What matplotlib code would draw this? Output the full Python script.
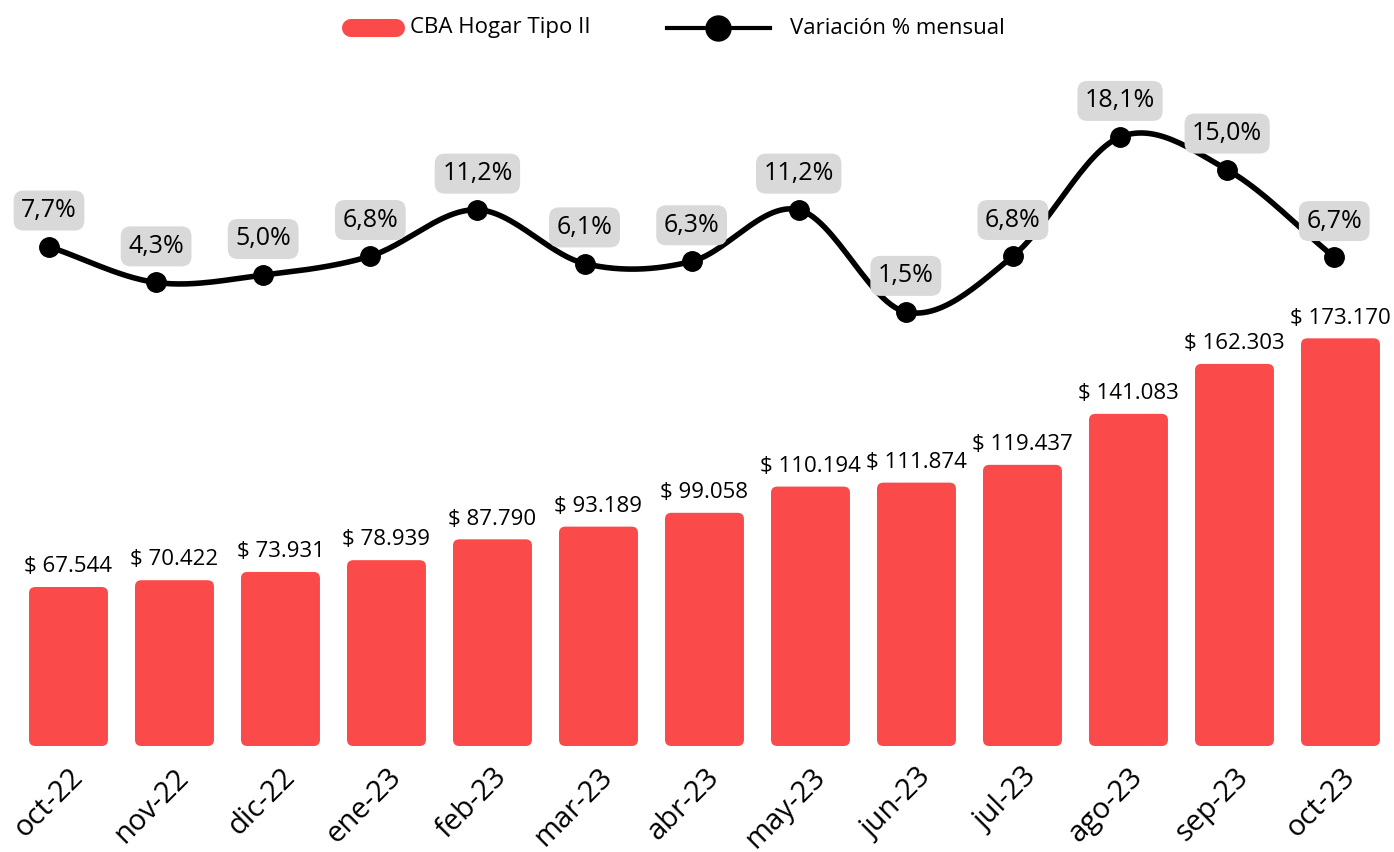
import numpy as np
import matplotlib.pyplot as plt
from matplotlib.patches import FancyBboxPatch
from matplotlib.lines import Line2D

plt.rcParams['font.family'] = ['Open Sans', 'DejaVu Sans']

meses = ['oct-22', 'nov-22', 'dic-22', 'ene-23', 'feb-23', 'mar-23', 'abr-23',
         'may-23', 'jun-23', 'jul-23', 'ago-23', 'sep-23', 'oct-23']
cba = [67544, 70422, 73931, 78939, 87790, 93189, 99058,
       110194, 111874, 119437, 141083, 162303, 173170]
variacion = [7.7, 4.3, 5.0, 6.8, 11.2, 6.1, 6.3, 11.2, 1.5, 6.8, 18.1, 15.0, 6.7]

ROJO = '#FA4A4A'
W, H = 1394, 852


def fmt_miles(v):
    return '$ ' + f'{v:,}'.replace(',', '.')


def spline(x, y, n=30):
    # curva suave tipo Catmull-Rom que pasa por los puntos
    x = np.asarray(x, float)
    y = np.asarray(y, float)
    px = np.concatenate([[2 * x[0] - x[1]], x, [2 * x[-1] - x[-2]]])
    py = np.concatenate([[2 * y[0] - y[1]], y, [2 * y[-1] - y[-2]]])
    xs, ys = [], []
    t = np.linspace(0, 1, n)
    for i in range(1, len(px) - 2):
        for arr, out in ((px, xs), (py, ys)):
            p0, p1, p2, p3 = arr[i - 1:i + 3]
            out.extend(0.5 * ((2 * p1) + (-p0 + p2) * t
                              + (2 * p0 - 5 * p1 + 4 * p2 - p3) * t ** 2
                              + (-p0 + 3 * p1 - 3 * p2 + p3) * t ** 3))
    return np.array(xs), np.array(ys)


fig = plt.figure(figsize=(W / 100, H / 100), dpi=100)
ax = fig.add_axes([0, 0.1244, 1, 0.8052])
x = np.arange(len(meses))

bars = ax.bar(x, cba, width=0.745, color=ROJO)
ax.set_xlim(-0.646, 12.505)
ax.set_ylim(0, 291400)
for b in bars:
    b.set_visible(False)
    fb = FancyBboxPatch((b.get_x(), 0), b.get_width(), b.get_height(),
                        boxstyle='round,pad=0,rounding_size=0.06',
                        mutation_aspect=45000, color=ROJO, lw=0)
    ax.add_patch(fb)
for xi, v in zip(x, cba):
    ax.annotate(fmt_miles(v), (xi, v), xytext=(0, 7), textcoords='offset points',
                ha='center', va='bottom', fontsize=16, fontweight='medium')

ax.set_xticks(x)
ax.set_xticklabels(meses, rotation=45, ha='right', rotation_mode='anchor',
                   fontsize=21, fontweight='medium')
ax.tick_params(axis='x', length=0, pad=12)
ax.set_yticks([])
for s in ax.spines.values():
    s.set_visible(False)

# la linea usa su propio eje x (los puntos no caen sobre el centro de las barras)
ax2 = fig.add_axes([0, 0.1244, 1, 0.8052], frameon=False)
ax2.set_xlim(-0.4575, 12.558)
ax2.set_ylim(-39.68, 25.41)
ax2.set_xticks([])
ax2.set_yticks([])
sx, sy = spline(x, variacion)
ax2.plot(sx, sy, color='black', lw=4, solid_capstyle='round')
ax2.plot(x, variacion, 'o', color='black', ms=14)
for xi, v in zip(x, variacion):
    ax2.annotate(f'{v:.1f}%'.replace('.', ','), (xi, v), xytext=(0, 26),
                 textcoords='offset points', ha='center', va='center', fontsize=18,
                 fontweight='medium',
                 bbox=dict(boxstyle='round,pad=0.3,rounding_size=0.4',
                           fc='#D9D9D9', ec='none'))

# leyenda dibujada a mano en coordenadas de figura
ly = 1 - 28 / H
fig.add_artist(Line2D([351 / W, 396 / W], [ly, ly], color=ROJO, lw=13,
                      solid_capstyle='round', transform=fig.transFigure))
fig.text(410 / W, ly, 'CBA Hogar Tipo II', fontsize=16, fontweight='medium',
         va='center', ha='left')
fig.add_artist(Line2D([667 / W, 770 / W], [ly, ly], color='black', lw=3,
                      transform=fig.transFigure))
fig.add_artist(Line2D([718 / W], [ly], color='black', marker='o', ms=18,
                      transform=fig.transFigure))
fig.text(790 / W, ly, 'Variación % mensual', fontsize=16, fontweight='medium',
         va='center', ha='left')

fig.savefig('out.png', dpi=100)
